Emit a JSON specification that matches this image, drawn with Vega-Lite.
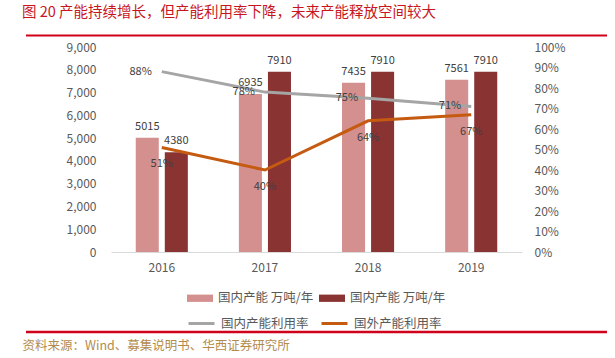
{
  "$schema": "https://vega.github.io/schema/vega-lite/v6.json",
  "width": 411,
  "height": 205,
  "autosize": {"type": "none"},
  "padding": {"left": 111, "top": 47, "right": 93, "bottom": 106},
  "background": "white",
  "config": {
    "view": {"stroke": null},
    "font": "Noto Sans CJK SC",
    "axis": {"grid": false, "ticks": false, "labelFont": "Noto Sans CJK SC", "labelOverlap": false}
  },
  "title": {
    "text": "图 20  产能持续增长，但产能利用率下降，未来产能释放空间较大",
    "anchor": "start",
    "frame": "group",
    "dx": -89,
    "offset": 24,
    "baseline": "middle",
    "dy": 17,
    "fontSize": 14.5,
    "fontWeight": "normal",
    "color": "#C8161D",
    "font": "Noto Sans CJK SC"
  },
  "datasets": {
    "bars": [
      {"year": "2016", "series": "a", "value": 5015},
      {"year": "2016", "series": "b", "value": 4380},
      {"year": "2017", "series": "a", "value": 6935},
      {"year": "2017", "series": "b", "value": 7910},
      {"year": "2018", "series": "a", "value": 7435},
      {"year": "2018", "series": "b", "value": 7910},
      {"year": "2019", "series": "a", "value": 7561},
      {"year": "2019", "series": "b", "value": 7910}
    ],
    "rates": [
      {"year": "2016", "series": "国内产能利用率", "rate": 0.88},
      {"year": "2017", "series": "国内产能利用率", "rate": 0.78},
      {"year": "2018", "series": "国内产能利用率", "rate": 0.75},
      {"year": "2019", "series": "国内产能利用率", "rate": 0.71},
      {"year": "2016", "series": "国外产能利用率", "rate": 0.51},
      {"year": "2017", "series": "国外产能利用率", "rate": 0.40},
      {"year": "2018", "series": "国外产能利用率", "rate": 0.64},
      {"year": "2019", "series": "国外产能利用率", "rate": 0.67}
    ],
    "frame": [{"k": 1}]
  },
  "layer": [
    {
      "data": {"name": "frame"},
      "mark": {"type": "rule", "color": "#D0021B", "strokeWidth": 2.2, "clip": false},
      "encoding": {
        "x": {"value": -85},
        "x2": {"value": 496},
        "y": {"value": -11.5},
        "y2": {"value": -11.5}
      }
    },
    {
      "data": {"name": "frame"},
      "mark": {"type": "rule", "color": "#D0021B", "strokeWidth": 2.5, "clip": false},
      "encoding": {
        "x": {"value": -85},
        "x2": {"value": 496},
        "y": {"value": 285},
        "y2": {"value": 285}
      }
    },
    {
      "data": {"name": "bars"},
      "encoding": {
        "x": {
          "field": "year", "type": "nominal",
          "scale": {"paddingInner": 0.495, "paddingOuter": 0.24},
          "axis": {
            "labelAngle": 0, "labelFontSize": 12, "labelColor": "#595959",
            "labelPadding": 10, "domainColor": "#D9D9D9", "domainWidth": 1,
            "title": "资料来源：Wind、募集说明书、华西证券研究所",
            "titleColor": "#B38B4D", "titleFontSize": 12.5, "titleFontWeight": "normal",
            "titleAnchor": "start", "titleAlign": "left", "titleBaseline": "middle",
            "titleX": -89, "titleY": 93
          }
        },
        "xOffset": {"field": "series", "type": "nominal", "scale": {"paddingInner": 0.207}},
        "y": {
          "field": "value", "type": "quantitative",
          "scale": {"domain": [0, 9000]},
          "axis": {
            "values": [0,1000,2000,3000,4000,5000,6000,7000,8000,9000],
            "format": ",d", "labelFontSize": 12, "labelColor": "#595959",
            "labelPadding": 15, "domain": false, "title": null
          }
        }
      },
      "layer": [
        {
          "mark": {"type": "bar"},
          "encoding": {
            "fill": {
              "field": "series", "type": "nominal",
              "scale": {"domain": ["a", "b"], "range": ["#D48F8F", "#8A3333"]},
              "legend": {
                "orient": "none", "legendX": 76, "legendY": 238, "direction": "horizontal",
                "title": null, "labelExpr": "'国内产能 万吨/年'",
                "symbolType": "M-1,-0.28L1,-0.28L1,0.28L-1,0.28Z", "symbolSize": 676,
                "symbolStrokeWidth": 0,
                "labelFontSize": 12.5, "labelColor": "#595959", "labelOffset": 5,
                "columnPadding": 5, "labelFont": "Noto Sans CJK SC"
              }
            }
          }
        },
        {
          "mark": {"type": "text", "baseline": "bottom", "dy": -6, "fontSize": 11, "color": "#404040"},
          "encoding": {
            "text": {"field": "value", "type": "quantitative", "format": "d"}
          }
        }
      ]
    },
    {
      "data": {"name": "rates"},
      "encoding": {
        "x": {"field": "year", "type": "nominal"},
        "y": {
          "field": "rate", "type": "quantitative",
          "scale": {"domain": [0, 1]},
          "axis": {
            "orient": "right", "values": [0,0.1,0.2,0.3,0.4,0.5,0.6,0.7,0.8,0.9,1],
            "format": ".0%", "labelFontSize": 12, "labelColor": "#595959",
            "labelPadding": 12, "domain": false, "title": null
          }
        }
      },
      "layer": [
        {
          "mark": {"type": "line", "strokeWidth": 3},
          "encoding": {
            "stroke": {
              "field": "series", "type": "nominal",
              "scale": {"domain": ["国内产能利用率", "国外产能利用率"], "range": ["#A5A5A5", "#C55A11"]},
              "legend": {
                "orient": "none", "legendX": 76, "legendY": 262, "direction": "horizontal",
                "title": null, "symbolType": "stroke", "symbolSize": 676,
                "symbolStrokeWidth": 3,
                "labelFontSize": 12.5, "labelColor": "#595959", "labelOffset": 5,
                "columnPadding": 6, "labelFont": "Noto Sans CJK SC"
              }
            }
          }
        },
        {
          "transform": [{"filter": "datum.series === '国内产能利用率'"}],
          "mark": {"type": "text", "align": "right", "baseline": "middle", "dx": -10, "fontSize": 11, "color": "#404040"},
          "encoding": {
            "text": {"field": "rate", "type": "quantitative", "format": ".0%"}
          }
        },
        {
          "transform": [{"filter": "datum.series === '国外产能利用率'"}],
          "mark": {"type": "text", "align": "center", "baseline": "middle", "dy": 17, "fontSize": 11, "color": "#404040"},
          "encoding": {
            "text": {"field": "rate", "type": "quantitative", "format": ".0%"}
          }
        }
      ]
    }
  ],
  "resolve": {"scale": {"y": "independent", "xOffset": "independent"}}
}
